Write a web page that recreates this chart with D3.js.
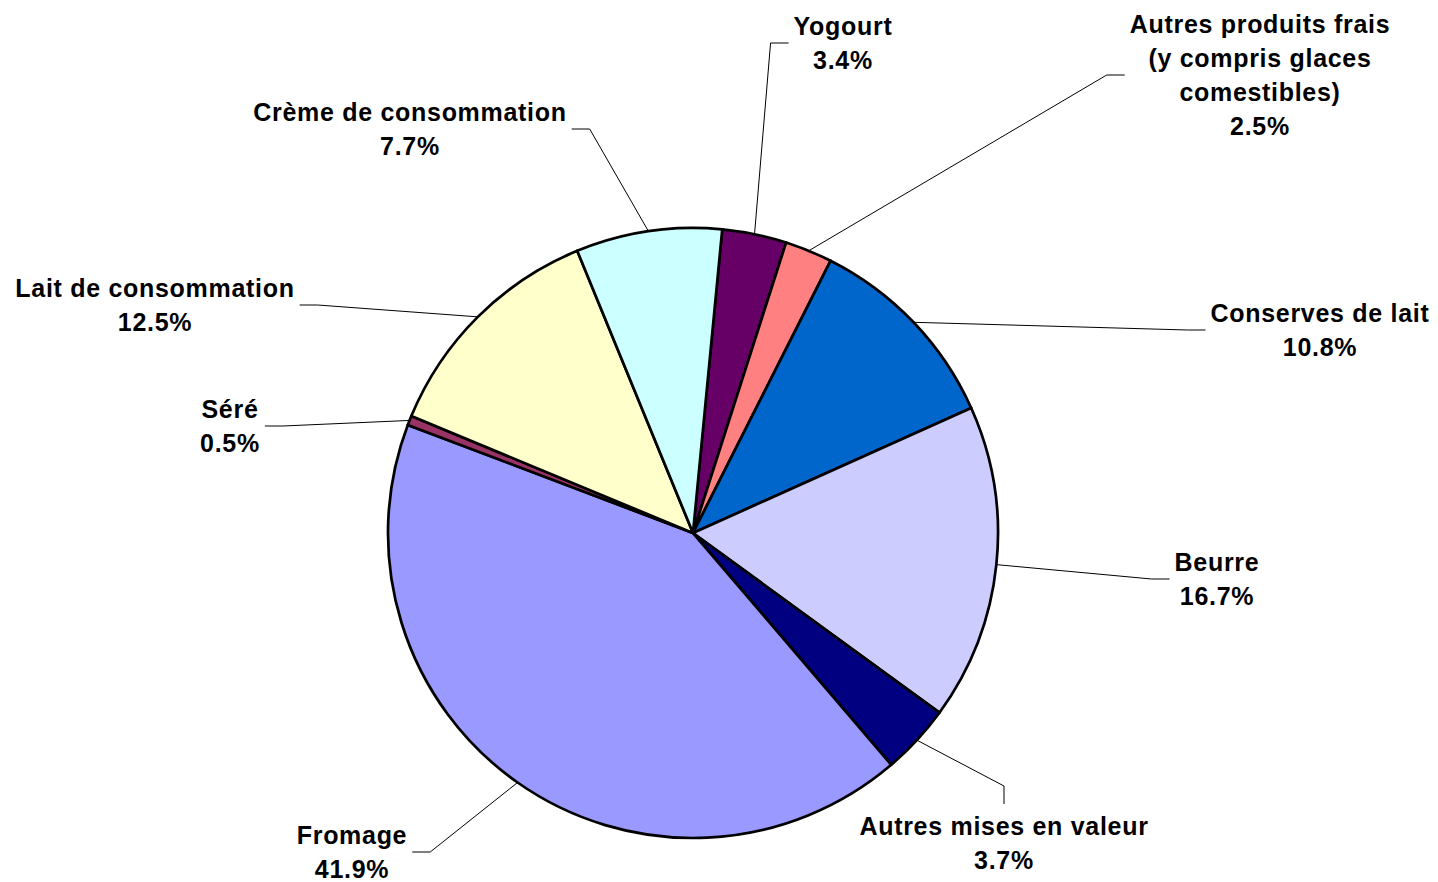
<!DOCTYPE html>
<html><head><meta charset="utf-8">
<script src="https://cdn.jsdelivr.net/npm/d3@7"></script>
<style>body{margin:0;background:#fff}svg{display:block}</style>
</head><body><svg id="c" width="1438" height="882"></svg>
<script>
// ---- data ----
const categories = ["Yogourt", "Autres produits frais (y compris glaces comestibles)", "Conserves de lait", "Beurre", "Autres mises en valeur", "Fromage", "Séré", "Lait de consommation", "Crème de consommation"];
const values = [3.4, 2.5, 10.8, 16.7, 3.7, 41.9, 0.5, 12.5, 7.7];
const labelLines = [["Yogourt"], ["Autres produits frais", "(y compris glaces", "comestibles)"], ["Conserves de lait"], ["Beurre"], ["Autres mises en valeur"], ["Fromage"], ["Séré"], ["Lait de consommation"], ["Crème de consommation"]];
const colors = ["#660066", "#FF8080", "#0066CC", "#CCCCFF", "#000080", "#9999FF", "#993366", "#FFFFCC", "#CCFFFF"];

// ---- layout (label anchor: center x, first line center y, leader side) ----
const labelLayout = [[843, 26, "left"], [1260, 24, "left"], [1320, 313, "left"], [1217, 562, "left"], [1004, 826, "top"], [352, 835, "right"], [230, 409, "right"], [155, 288, "right"], [410, 112, "right"]];
const cx = 693, cy = 533, R = 305, lineH = 34, fontSize = 25;
const startDeg = 5.5;

const svg = d3.select("#c");
const g = svg.append("g").attr("transform", `translate(${cx},${cy})`);
const pie = d3.pie().sort(null).value(d => d.v)
  .startAngle(startDeg * Math.PI / 180).endAngle(startDeg * Math.PI / 180 + 2 * Math.PI);
const data = categories.map((c, i) => ({c, v: values[i], col: colors[i], lines: labelLines[i], lay: labelLayout[i]}));
const arcs = pie(data);
const arc = d3.arc().innerRadius(0).outerRadius(R);

g.selectAll("path.slice").data(arcs).enter().append("path")
  .attr("class", "slice").attr("d", arc)
  .attr("fill", d => d.data.col).attr("stroke", "#000").attr("stroke-width", 2.7)
  .attr("stroke-linejoin", "round");

// labels
const lab = svg.append("g").attr("font-family", "'Liberation Sans', Arial, sans-serif")
  .attr("font-weight", "bold").attr("font-size", fontSize).attr("letter-spacing", "0.7px").attr("fill", "#000");
const leaders = svg.append("g");

arcs.forEach(a => {
  const [lx, ly, side] = a.data.lay;
  const lines = a.data.lines.concat([d3.format(".1f")(a.data.v) + "%"]);
  const t = lab.append("text").attr("text-anchor", "middle");
  lines.forEach((s, k) => {
    t.append("tspan").attr("x", lx).attr("y", ly + k * lineH).attr("dy", "0.36em").text(s);
  });
  const bb = t.node().getBBox();
  const mid = (a.startAngle + a.endAngle) / 2;
  const p0 = [cx + R * Math.sin(mid), cy - R * Math.cos(mid)];
  const midY = ly + (lines.length - 1) * lineH / 2;
  let end, elbow;
  if (side === "left") { end = [bb.x - 5, midY]; elbow = [end[0] - 18, midY]; }
  else if (side === "right") { end = [bb.x + bb.width + 5, midY]; elbow = [end[0] + 18, midY]; }
  else { end = [lx, bb.y - 8]; elbow = [lx, end[1] - 18]; }
  leaders.append("path").attr("d", d3.line()([p0, elbow, end]))
    .attr("fill", "none").attr("stroke", "#000").attr("stroke-width", 1);
});
</script></body></html>
